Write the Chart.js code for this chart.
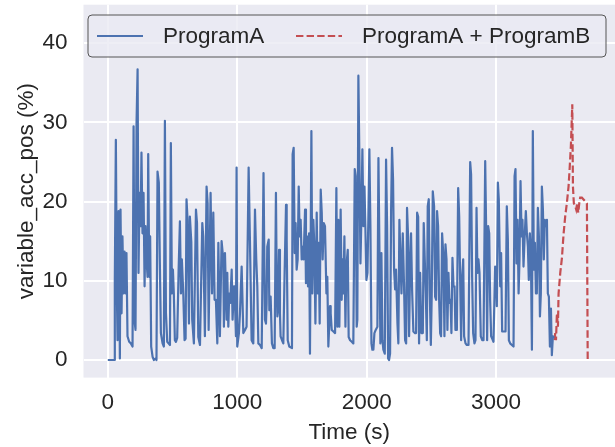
<!DOCTYPE html>
<html>
<head>
<meta charset="utf-8">
<script src="https://cdn.jsdelivr.net/npm/chart.js@4.4.0/dist/chart.umd.min.js"></script>
<style>
  body { margin: 0; background: #ffffff; }
  #wrap { width: 615px; height: 447px; }
</style>
</head>
<body>
<div id="wrap"><canvas id="myChart" width="615" height="447"></canvas></div>
<script>
// series
const timeA = [0, 50, 54, 62, 70, 75, 83, 88, 93, 98, 106, 113, 121, 129, 137, 144, 152, 165, 178, 191,
  199, 206, 214, 222, 230, 237, 245, 253, 260, 268, 276, 284, 291, 299, 307, 312, 320, 327, 335, 346,
  356, 369, 376, 384, 394, 402, 410, 423, 433, 441, 449, 459, 469, 480, 487, 495, 503, 510, 518, 526,
  536, 547, 557, 565, 572, 583, 593, 601, 608, 616, 627, 634, 645, 652, 665, 681, 689, 699, 712, 730,
  737, 750, 763, 771, 779, 794, 805, 815, 825, 835, 846, 854, 866, 879, 892, 897, 905, 918, 923, 931,
  938, 946, 957, 964, 975, 982, 990, 995, 1000, 1013, 1021, 1034, 1047, 1060, 1072, 1088, 1098, 1111, 1124, 1137,
  1147, 1155, 1163, 1176, 1189, 1203, 1214, 1222, 1227, 1232, 1243, 1248, 1258, 1268, 1279, 1289, 1299, 1304, 1310, 1315,
  1323, 1330, 1335, 1346, 1356, 1366, 1377, 1382, 1390, 1402, 1423, 1428, 1436, 1444, 1451, 1459, 1467, 1475, 1482, 1490,
  1498, 1506, 1513, 1524, 1531, 1539, 1547, 1555, 1562, 1573, 1580, 1588, 1596, 1604, 1614, 1622, 1629, 1637, 1645, 1653,
  1660, 1668, 1678, 1689, 1696, 1704, 1717, 1722, 1730, 1743, 1756, 1766, 1774, 1781, 1789, 1799, 1807, 1815, 1820, 1828,
  1836, 1843, 1854, 1861, 1872, 1885, 1897, 1908, 1915, 1923, 1928, 1936, 1944, 1952, 1959, 1967, 1975, 1983, 1990, 1998,
  2006, 2013, 2021, 2029, 2037, 2044, 2052, 2060, 2070, 2083, 2091, 2099, 2106, 2114, 2122, 2129, 2140, 2150, 2158, 2166,
  2173, 2181, 2189, 2196, 2204, 2212, 2220, 2227, 2238, 2245, 2253, 2261, 2269, 2279, 2289, 2297, 2305, 2312, 2320, 2328,
  2336, 2343, 2351, 2361, 2374, 2382, 2390, 2398, 2405, 2413, 2423, 2434, 2441, 2449, 2457, 2465, 2472, 2480, 2488, 2496,
  2503, 2511, 2521, 2529, 2537, 2544, 2552, 2560, 2568, 2575, 2583, 2593, 2601, 2609, 2617, 2624, 2632, 2640, 2648, 2655,
  2663, 2671, 2679, 2686, 2697, 2707, 2715, 2722, 2730, 2738, 2746, 2753, 2764, 2774, 2787, 2800, 2807, 2815, 2823, 2833,
  2841, 2849, 2856, 2864, 2872, 2882, 2893, 2903, 2916, 2923, 2931, 2939, 2947, 2954, 2962, 2970, 2980, 2993, 3001, 3006,
  3014, 3021, 3032, 3039, 3047, 3057, 3073, 3083, 3091, 3099, 3109, 3122, 3135, 3143, 3150, 3158, 3166, 3174, 3181, 3189,
  3197, 3204, 3212, 3220, 3230, 3238, 3246, 3253, 3261, 3269, 3277, 3284, 3292, 3300, 3308, 3315, 3323, 3331, 3339, 3346,
  3354, 3362, 3369, 3377, 3385, 3393, 3400, 3408, 3416, 3424, 3431, 3439, 3449];
const valueA = [0, 0, 9.9, 27.8, 8.4, 2.5, 18.8, 12.7, 0.2, 19, 5.9, 15.6, 8.4, 13.7, 8.4, 13.5, 3, 2.3, 2.1, 1.7,
  29.5, 5, 3.8, 30, 36.7, 11, 21.1, 16.9, 26.2, 16, 21.1, 9.3, 16.9, 12.7, 10.5, 26, 10.5, 15.6, 1.7, 0.4,
  0, 0.2, 0, 23.8, 22.4, 12.2, 3.4, 2.1, 1.7, 30.2, 5.9, 2.3, 2.1, 1.9, 27.4, 8.4, 11.4, 8.4, 2.5, 2.3,
  2.8, 11.4, 17.5, 8.4, 12.7, 8.4, 2.5, 2.7, 20.3, 17.7, 4.6, 18.1, 14.9, 5.1, 2.1, 19, 17.3, 2.9, 1.9, 17.3,
  15.6, 3, 21.9, 19.8, 3.8, 21.1, 8.4, 18.6, 7.6, 7.6, 2.1, 14.8, 3, 15, 12.7, 4.2, 13.5, 5.1, 11, 4.2,
  8.4, 7.2, 11.4, 5.1, 9.3, 7.6, 3, 24.3, 1.7, 3.4, 5.9, 11.8, 3.4, 3.8, 4.2, 24.3, 15.2, 2.5, 2.1, 19,
  12.7, 9.3, 2.1, 1.9, 1.5, 23.6, 5.1, 4.6, 7.2, 14.3, 15.2, 6.3, 8, 2.1, 1.5, 1.5, 21.1, 11.8, 5.5, 6.3,
  13.9, 5.9, 3, 2.5, 2.1, 11, 19.6, 15.2, 2.5, 1.7, 1.5, 26, 26.8, 13.5, 17.3, 11.4, 12.7, 21.9, 15.6, 17.7,
  12.7, 14.3, 12.7, 19, 9.7, 15.6, 9.3, 16, 0.8, 28.9, 8.4, 17.7, 14.3, 4.6, 18.6, 8.4, 14.8, 4.6, 21.5, 18.6,
  12.7, 17.3, 16.9, 8.4, 10.5, 1.7, 6.8, 5.9, 3.8, 3.6, 3.4, 21.7, 4.2, 17.7, 4.2, 19, 7.6, 12.7, 8.4, 15.6,
  4.2, 11.8, 13.9, 2.9, 2.5, 2.3, 2.1, 24.1, 23.2, 4.2, 5.1, 35.9, 25.3, 12.2, 17.7, 26.6, 16.9, 21.9, 16.9, 10.1,
  11, 17.7, 26.6, 16.9, 2.1, 1.3, 1.3, 3.4, 3.8, 4.2, 25.5, 13.5, 2.1, 13.5, 2.5, 1.3, 0.8, 25.3, 16.9, 0.2,
  0, 0.8, 19, 26.8, 22.8, 11.4, 8.9, 11.4, 4.6, 2.1, 17.7, 12.7, 8.4, 16, 9.3, 2.5, 2.1, 19.2, 15.6, 3,
  12.2, 16, 8.9, 3.6, 3.4, 3.4, 18.6, 18.1, 2.1, 11, 3.4, 3.4, 17.3, 12.7, 8.4, 2.5, 19.4, 20.3, 8.4, 1.9,
  8.4, 21.3, 19.4, 8, 7.6, 18.8, 16.9, 7.6, 3.4, 3, 16, 13.1, 3, 14.6, 12.7, 3.8, 11, 7.2, 7.6, 3.4,
  12.9, 9.3, 9.3, 3.8, 3.8, 21.7, 18.1, 10.5, 2.5, 10.5, 12.7, 3, 2.1, 1.9, 1.9, 25, 23.4, 10.5, 3.4, 2.1,
  2.5, 19.2, 11, 12.7, 11, 3, 2.5, 2.5, 25.1, 16.9, 2.5, 16.9, 16, 7.6, 3, 2.7, 2.3, 11.8, 11, 6.8,
  22.4, 20.3, 9.3, 13.5, 3.6, 3.6, 3.6, 19.4, 15.2, 2.5, 2.1, 1.9, 1.7, 23.2, 24.1, 12.2, 17.7, 8.4, 12.7, 22.6,
  15.6, 17.7, 11.8, 15.2, 18.8, 16, 14.3, 10.1, 16, 13.5, 1.3, 28.9, 11.4, 14.8, 8.4, 8.4, 19.2, 15.6, 5.5, 8.4,
  21.9, 19, 12.7, 17.7, 16.9, 17.7, 8.4, 8, 1.7, 6.5, 0.6, 3, 2.8];

const timeB = [3452, 3457, 3463, 3470, 3478, 3483, 3496, 3509, 3522, 3534, 3547, 3560, 3568, 3578, 3589, 3594,
  3601, 3612, 3619, 3627, 3635, 3643, 3650, 3663, 3702, 3708];
const valueB = [2.5, 3.4, 2.5, 5.9, 4.2, 8.4, 11, 12.9, 16, 18.1, 19.8, 21.9, 24, 27, 32.3, 21.9,
  19.8, 19.4, 19, 19.8, 18.6, 19.8, 20.5, 20.5, 19.8, 0];

const xTicks = [0, 1000, 2000, 3000];
const yTicks = [0, 10, 20, 30, 40];
const seriesNames = ['ProgramA', 'ProgramA + ProgramB'];

const blue = '#4C72B0';
const red = '#C44E52';
const font = "'Liberation Sans', Arial, sans-serif";
const textColor = '#262626';

// legend drawn like the matplotlib one (frame + line samples)
const boxLegend = {
  id: 'boxLegend',
  afterDraw(chart) {
    const c = chart.ctx;
    c.save();
    const x = 88, y = 15, w = 518, h = 42, r = 4;
    c.beginPath();
    c.roundRect(x, y, w, h, r);
    c.fillStyle = 'rgba(234,234,242,0.8)';
    c.fill();
    c.lineWidth = 1;
    c.strokeStyle = '#555555';
    c.stroke();

    const midY = 36;
    const samples = [[97, 143, 163], [296, 342, 362]];
    chart.data.datasets.forEach((ds, i) => {
      const [x1, x2, tx] = samples[i];
      c.beginPath();
      c.setLineDash(ds.borderDash || []);
      c.strokeStyle = ds.borderColor;
      c.lineWidth = ds.borderWidth;
      c.moveTo(x1, midY);
      c.lineTo(x2, midY);
      c.stroke();
      c.setLineDash([]);
      c.fillStyle = textColor;
      c.font = '22.5px ' + font;
      c.textBaseline = 'middle';
      c.fillText(ds.label, tx, midY + 1);
    });
    c.restore();
  }
};

const plotBg = {
  id: 'plotBg',
  beforeDraw(chart) {
    const a = chart.chartArea;
    chart.ctx.save();
    chart.ctx.fillStyle = '#EAEAF2';
    chart.ctx.fillRect(a.left, a.top, a.right - a.left, a.bottom - a.top);
    chart.ctx.restore();
  }
};

document.addEventListener('DOMContentLoaded', function() {
  const ctx = document.getElementById('myChart').getContext('2d');

  const myChart = new Chart(ctx, {
    type: 'line',
    data: {
      datasets: [
        {
          label: seriesNames[0],
          data: timeA.map((t, i) => ({ x: t, y: valueA[i] })),
          borderColor: blue,
          borderWidth: 2.2,
          borderJoinStyle: 'round',
          pointRadius: 0,
          tension: 0
        },
        {
          label: seriesNames[1],
          data: timeB.map((t, i) => ({ x: t, y: valueB[i] })),
          borderColor: red,
          borderWidth: 2.2,
          borderDash: [7.4, 3.2],
          pointRadius: 0,
          tension: 0
        }
      ]
    },
    options: {
      responsive: false,
      animation: false,
      devicePixelRatio: 1,
      layout: { padding: { top: 4.7, right: 0, left: 0, bottom: 0 } },
      plugins: {
        legend: { display: false },
        tooltip: { enabled: false }
      },
      scales: {
        x: {
          type: 'linear',
          min: -188,
          max: 3919,
          afterFit: (s) => { s.height = 69.4; s.paddingLeft = 0; s.paddingRight = 0; },
          afterBuildTicks: (s) => { s.ticks = xTicks.map(v => ({ value: v })); },
          grid: { color: '#ffffff', lineWidth: 2, drawTicks: false },
          border: { display: false },
          ticks: {
            padding: 12,
            color: textColor,
            font: { family: font, size: 22.5 },
            callback: (v) => String(v)
          },
          title: {
            display: true,
            text: 'Time (s)',
            color: textColor,
            font: { family: font, size: 22.5 },
            padding: { top: 0, bottom: 1 }
          }
        },
        y: {
          min: -2.22,
          max: 44.86,
          afterFit: (s) => { s.width = 83.5; s.paddingTop = 0; s.paddingBottom = 0; },
          afterBuildTicks: (s) => { s.ticks = yTicks.map(v => ({ value: v })); },
          grid: { color: '#ffffff', lineWidth: 2, drawTicks: false },
          border: { display: false },
          ticks: {
            padding: 16,
            color: textColor,
            font: { family: font, size: 22.5 },
            callback: (v) => String(v)
          },
          title: {
            display: true,
            text: 'variable_acc_pos (%)',
            color: textColor,
            font: { family: font, size: 22.5 },
            padding: { top: 13, bottom: 0 }
          }
        }
      }
    },
    plugins: [plotBg, boxLegend]
  });
});
</script>
</body>
</html>
